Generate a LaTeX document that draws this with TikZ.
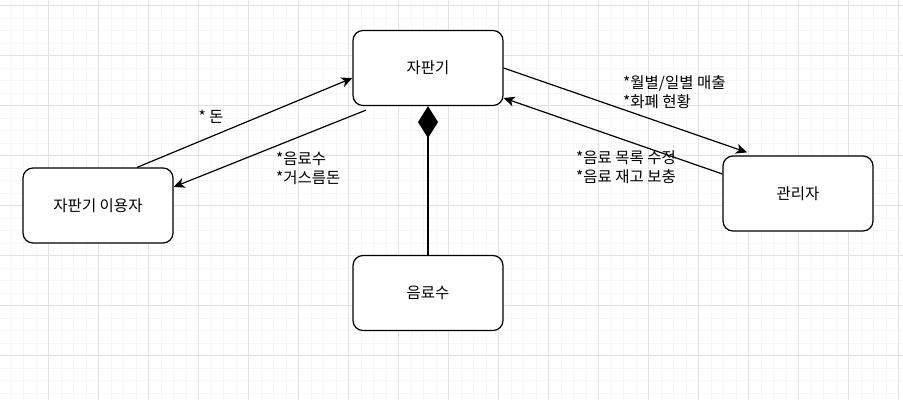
\documentclass[tikz,border=0pt]{standalone}
\usepackage{fontspec}
\setmainfont{Noto Sans CJK KR}
\usepackage{tikz}
\usetikzlibrary{arrows.meta, positioning}
\definecolor{gridmajor}{HTML}{E2E2E2}
\definecolor{gridminor}{HTML}{F6F6F6}

\begin{document}
\begin{tikzpicture}[x=1pt, y=-1pt,
	box/.style={draw, line width=1.2pt, rounded corners=10pt, fill=white,
		minimum width=150pt, minimum height=75pt, font=\fontsize{15.5}{18.75}\selectfont},
	lbl/.style={align=left, inner sep=0pt, font=\fontsize{15.5}{18.75}\selectfont},
	flow/.style={line width=1.2pt, -{Stealth[length=11pt, width=10pt, inset=3pt]}}]
	\useasboundingbox (0,0) rectangle (903,400);
	\fill[white] (0,0) rectangle (903,400);
	% grid
	\foreach \x in {-1.5,11,...,904} \draw[gridminor, line width=1pt] (\x,0) -- (\x,400);
	\foreach \y in {-7,5.5,...,401} \draw[gridminor, line width=1pt] (0,\y) -- (903,\y);
	\foreach \x in {-1.5,48.5,...,904} \draw[gridmajor, line width=1pt] (\x,0) -- (\x,400);
	\foreach \y in {5.5,55.5,...,401} \draw[gridmajor, line width=1pt] (0,\y) -- (903,\y);

	% boxes
	\node[box] (vm) at (428,68) {자판기};
	\node[box] (user) at (98,205.5) {자판기 이용자};
	\node[box] (admin) at (798,193.5) {관리자};
	\node[box] (drink) at (428,293) {음료수};

	% connectors
	\draw[flow] ([xshift=39pt]user.north) -- ([yshift=-10pt]vm.west);
	\draw[flow] ([xshift=-62pt, yshift=-4pt]vm.south) -- ([yshift=18.5pt]user.east);
	\draw[flow] (vm.east) -- ([xshift=-51pt, yshift=3pt]admin.north);
	\draw[flow] ([yshift=19.5pt]admin.west) -- ([yshift=-30pt]vm.east);
	\draw[line width=1.1pt, {Diamond[length=32pt, width=20pt]}-] (vm.south) -- (drink.north);

	% labels
	\node[lbl] (money) at (211,117) {* 돈};
	\node[lbl, anchor=base west] (change) at (276,183.6) {*음료수\\*거스름돈};
	\node[lbl, anchor=base west] (sales) at (623,107.6) {*월별/일별 매출\\*화폐 현황};
	\node[lbl, anchor=base west] (stock) at (576,182.6) {*음료 목록 수정\\*음료 재고 보충};
\end{tikzpicture}
\end{document}
